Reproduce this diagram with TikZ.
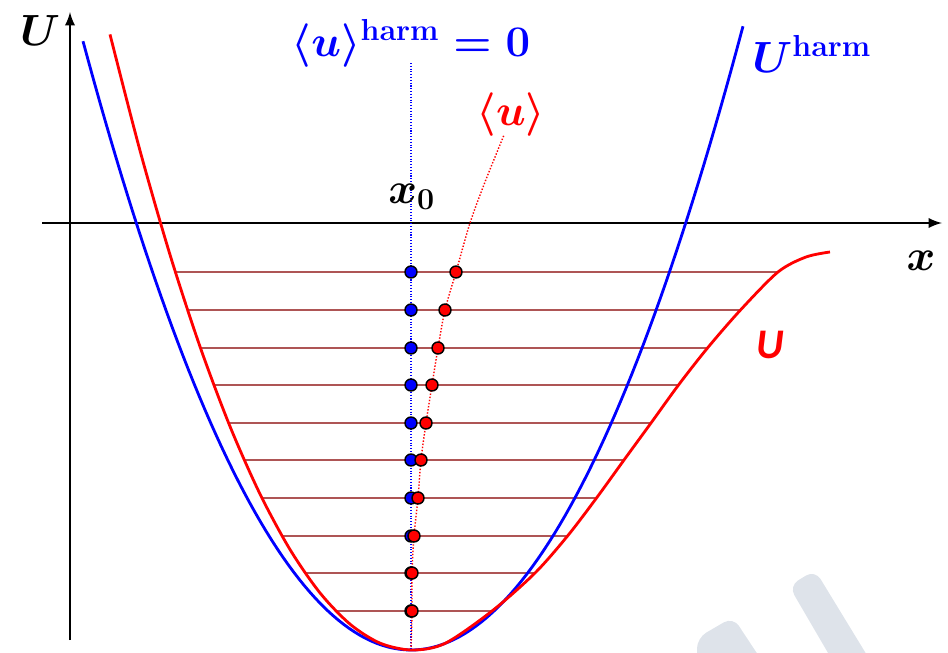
\documentclass[tikz,border=0pt]{standalone}
\usepackage{amsmath}
\usepackage{amssymb}
\usepackage{fontspec}
\newfontfamily\calib{Carlito}
\usetikzlibrary{arrows}

\definecolor{levelred}{RGB}{160,55,55}
\definecolor{wmgray}{RGB}{222,227,234}

\begin{document}
\begin{tikzpicture}[x=0.02cm, y=-0.02cm,
  axis/.style={line width=1.6pt, black, -latex},
  curve/.style={line width=1.6pt},
  level/.style={line width=1pt, levelred, opacity=0.85},
  bdot/.style={draw=black, fill=blue, circle, inner sep=0pt, minimum size=0.24cm, line width=0.8pt},
  rdot/.style={draw=black, fill=red, circle, inner sep=0pt, minimum size=0.24cm, line width=0.8pt},
  lbl/.style={inner sep=0pt, font=\fontsize{24}{28}\selectfont\boldmath}]
\useasboundingbox (0,0) rectangle (948,653);

% watermark in the corner
\begin{scope}
\clip (0,0) rectangle (948,653);
\fill[wmgray, rounded corners=6pt] (697,670) -- (697,638) -- (733,617) -- (768,670) -- cycle;
\fill[wmgray, rounded corners=6pt] (789,586) -- (815,570) -- (876,670) -- (838,670) -- cycle;
\end{scope}

% axes
\coordinate (ybot) at (70,640);
\coordinate (ytop) at (70,12);
\coordinate (xl) at (42,223);
\coordinate (xr) at (942,223);
\draw[axis] (ybot) -- (ytop);
\draw[axis] (xl) -- (xr);

% levels
\foreach \n/\y/\xl/\xr/\xu in {1/272/175.4/778/456, 2/310/187.6/740.5/445, 3/348/200.5/707.5/438,
  4/385/213.9/678.5/432, 5/423/228.6/651/426, 6/460/244.2/624/421, 7/498/261.9/596.5/418,
  8/536/282/567.5/414, 9/573/305.2/535/412, 10/611/336/492/412} {
  \coordinate (l\n) at (\xl,\y);
  \coordinate (r\n) at (\xr,\y);
  \coordinate (m\n) at (\xu,\y);
  \draw[level] (l\n) -- (r\n);
}

% potentials
\draw[curve, blue] plot[domain=83:743, samples=120] (\x, {650-(0.07523*(\x-411))^2});
\draw[curve, red] plot[smooth] coordinates {(110,34.4) (140,150.6) (170,254.7) (200,346.6)
  (230,426.4) (260,494) (290,549.5) (320,592.9) (350,624.1) (380,643.1) (412,650)
  (445,643.4) (492,611) (535,573) (567.5,536) (596.5,498) (624,460) (651,423) (678.5,385)
  (707.5,348) (740.5,310) (778,272) (806,257) (830,252)};

% mean positions
\coordinate (vtop) at (411,63);
\coordinate (vbot) at (411,650);
\draw[blue, densely dotted, line width=0.6pt] (vtop) -- (vbot);
\draw[red, densely dotted, line width=0.8pt] plot[smooth] coordinates {(411,650) (m10) (m9) (m8)
  (m7) (m6) (m5) (m4) (m3) (m2) (m1) (470,223) (485,182) (504,135)};

\foreach \n in {1,...,10} {
  \node[bdot] (b\n) at (vtop |- m\n) {};
}
\foreach \n in {1,...,10} {
  \node[rdot] (a\n) at (m\n) {};
}

% labels
\node[lbl, anchor=base] (Ulab) at (40,45) {$U$};
\node[lbl, anchor=base] (xlab) at (921,270) {$x$};
\node[lbl, anchor=base west] (x0lab) at (388,203) {$x_0$};
\node[lbl, anchor=base, blue] (harmlab) at (411,56) {$\langle u\rangle^{\mathbf{harm}} = 0$};
\node[lbl, anchor=base, red] (meanlab) at (511,125) {$\langle u\rangle$};
\node[lbl, anchor=base west, blue] (Uharmlab) at (752,72) {$U^{\mathbf{harm}}$};
\node[lbl, anchor=base, red] (Ured) at (770,358) {\calib\bfseries\itshape U};
\end{tikzpicture}
\end{document}
